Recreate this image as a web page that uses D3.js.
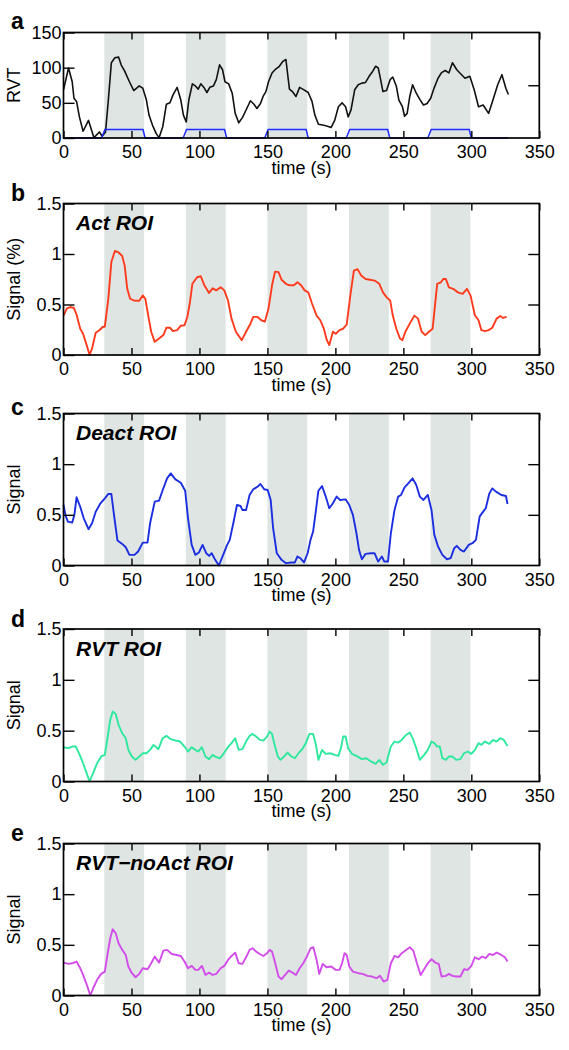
<!DOCTYPE html>
<html><head><meta charset="utf-8">
<script src="https://cdn.jsdelivr.net/npm/d3@7"></script>
<style>body{margin:0;background:#fff} svg{display:block}</style>
</head><body>
<svg id="chart" width="569" height="1050"></svg>
<script>
// ---------- data ----------
const xTicks = [0, 50, 100, 150, 200, 250, 300, 350];
const rvtTicks = [0, 50, 100, 150];
const sigTicks = [0, 0.5, 1, 1.5];
const bandStarts = [30, 90, 150, 210, 270];
const bandEnds = [59.3, 119.3, 179.3, 239.3, 299.3];
const stimT = [0, 28, 30.5, 58.5, 60, 88, 90.5, 118.5, 120, 148, 150.5, 178.5, 180, 208, 210.5, 238.5, 240, 268, 270.5, 298.5, 300, 327];
const stimV = [0, 0, 0.08, 0.08, 0, 0, 0.08, 0.08, 0, 0, 0.08, 0.08, 0, 0, 0.08, 0.08, 0, 0, 0.08, 0.08, 0, 0];

const rvt = [[0,68.5],[3.7,99.6],[6.4,80],[7.7,56.5],[9.6,52],[11.7,30],[14.4,9.6],[18.4,25],[22.4,0.5],[26.4,8.6],[28.5,2.4],[30.9,8.6],[33,54],[35.2,107],[37.8,114],[40.5,115],[42.4,104],[45,95],[48.5,80],[51.7,67.5],[55.7,74],[58.3,71],[61,54],[62.9,32.6],[65.5,18],[68.2,6.2],[70.3,0.5],[73,16],[75.7,48],[78.3,50],[80.5,61],[83.6,72],[86.3,54],[88.2,32.6],[90.3,23],[92.2,54],[94.8,77],[97,74],[99.1,69.5],[101,77],[103.6,71],[105.5,64.7],[107.6,72],[110.3,74],[112.4,83],[114.8,104],[117,97],[118.8,80],[121.5,77],[124.1,63.7],[126.3,35],[128.9,21.6],[131.6,29],[134.3,39.8],[137.5,53],[140.1,48],[142.3,42],[144.9,49],[147,60],[148.9,66],[150.8,80],[153.4,92.5],[156.1,98],[158.8,102],[161.4,109],[163.6,111.6],[166.2,69.5],[168.4,66],[171,59],[173.7,72],[176.9,68.5],[180,64.7],[182.8,52],[184.9,32.6],[187.5,19.6],[191.5,18],[194.2,16.8],[196.9,15],[199.5,25],[202.2,44.5],[204.9,50],[207.5,44.5],[209.4,30],[211.5,40],[214.2,68.5],[216.8,75.7],[219.5,78],[222.2,79],[224.8,87.7],[227.5,95],[229.6,102],[231.5,99.6],[232.8,87.7],[235,66],[237.6,67.5],[240.3,83],[242.2,86.7],[244.8,74],[246.7,54],[249.3,44.5],[250.9,31],[252.8,35],[254.7,59],[256.8,75.7],[259.5,63.7],[262.1,55],[264.8,47],[267.5,49],[270.1,56.5],[272.8,72],[275.5,85],[278.1,93],[280.8,96],[283.5,92.5],[286.1,107],[289.3,97],[292.8,90],[295.4,85],[298.9,87.7],[302.1,68.5],[305.3,44.5],[308.7,47],[312.7,35],[315.9,54],[319.4,75.7],[322.5,90],[325.5,70],[327.3,61.8]];

const actRoi = [[0,0.39],[2.4,0.46],[5,0.475],[7.7,0.465],[9.6,0.40],[12.3,0.26],[14.4,0.21],[17,0.10],[19.2,0],[21,0.065],[23.7,0.22],[26.4,0.245],[29,0.28],[30.4,0.28],[33,0.56],[35.2,0.92],[37.8,1.03],[40.5,1.015],[43.2,0.98],[45,0.885],[46.9,0.655],[49,0.557],[51.7,0.54],[55.7,0.537],[58.3,0.59],[60.2,0.557],[62.3,0.393],[64.5,0.23],[67.1,0.13],[70.3,0.164],[73.5,0.197],[75.7,0.27],[78.3,0.27],[80.5,0.236],[83.6,0.246],[86.3,0.29],[89,0.295],[91.1,0.377],[93,0.52],[94.8,0.705],[98.3,0.77],[101,0.78],[103.6,0.69],[107.1,0.615],[109.7,0.66],[112.4,0.64],[115.6,0.67],[118.3,0.64],[121,0.54],[123.6,0.36],[126.8,0.23],[131.1,0.147],[134.3,0.23],[137.5,0.31],[139.6,0.377],[142.8,0.377],[145.5,0.344],[148.1,0.33],[150.8,0.46],[153.4,0.69],[155.6,0.825],[158.2,0.82],[160.4,0.745],[163.6,0.705],[166.2,0.69],[169.4,0.69],[172.1,0.72],[174.8,0.69],[177.4,0.64],[180.1,0.62],[182.8,0.51],[186.2,0.39],[188.9,0.344],[191.5,0.26],[193.7,0.147],[195.5,0.098],[198.2,0.23],[200.3,0.21],[203,0.246],[205.7,0.26],[208.3,0.30],[211,0.59],[213.6,0.835],[216.3,0.85],[219,0.786],[222.2,0.753],[225.4,0.745],[228.8,0.737],[232.3,0.705],[235,0.62],[237.6,0.573],[240.3,0.54],[242.2,0.393],[244.8,0.26],[247.5,0.164],[249.3,0.147],[251.5,0.23],[255.5,0.33],[258.1,0.39],[260.8,0.36],[263.5,0.23],[266.1,0.197],[268.8,0.23],[271.5,0.26],[274.9,0.705],[277.6,0.72],[279.5,0.753],[281.3,0.753],[283.5,0.67],[286.6,0.655],[290.1,0.62],[293.6,0.606],[296.8,0.655],[299.4,0.59],[302.6,0.393],[305.3,0.344],[307.4,0.246],[310,0.236],[312.7,0.246],[315.4,0.27],[318.6,0.36],[321.3,0.386],[323.4,0.367],[326,0.377]];

const deactRoi = [[0,0.60],[1.6,0.49],[3.2,0.433],[6.4,0.423],[8,0.50],[9.6,0.673],[12.3,0.58],[14.9,0.466],[18.4,0.358],[21,0.417],[23.7,0.53],[27.2,0.614],[30.4,0.663],[33,0.706],[35.2,0.706],[37,0.515],[39.7,0.246],[43.2,0.213],[45.8,0.18],[48.5,0.105],[52.2,0.105],[54.9,0.138],[58.3,0.226],[61.8,0.226],[63.7,0.417],[67.1,0.63],[70.3,0.64],[73,0.745],[76.2,0.86],[78.9,0.909],[82.3,0.85],[86.3,0.817],[89.5,0.738],[91.6,0.466],[94.3,0.203],[97,0.105],[99.6,0.128],[102.3,0.203],[105,0.121],[107.1,0.095],[109,0.121],[111.6,0.056],[114.3,0],[117,0.089],[120.4,0.203],[122.3,0.253],[124.9,0.417],[127.6,0.597],[130.3,0.587],[131.6,0.548],[134.3,0.548],[136.9,0.696],[139.6,0.752],[142.8,0.778],[144.9,0.804],[147.6,0.752],[150.2,0.745],[152.4,0.647],[154.2,0.368],[156.9,0.121],[160.4,0.056],[163.6,0.023],[167.6,0.03],[170.2,0.03],[172.1,0.089],[174.2,0.072],[176.9,0.03],[179.6,0.121],[181.7,0.253],[183.6,0.335],[185.4,0.515],[187.5,0.738],[190.2,0.784],[192.9,0.68],[195.5,0.565],[198.2,0.614],[200.9,0.68],[203.5,0.647],[207.5,0.653],[210.2,0.597],[212.9,0.50],[215.5,0.318],[217.4,0.154],[219.5,0.062],[222.2,0.115],[226.2,0.121],[228.8,0.121],[231.5,0.039],[234.2,0.089],[236,0.039],[238.7,0.039],[240.8,0.318],[243.5,0.548],[246.2,0.68],[248.3,0.696],[250.9,0.771],[253.6,0.81],[256.8,0.86],[259.5,0.794],[262.1,0.68],[264.8,0.647],[268,0.696],[270.7,0.548],[272.8,0.302],[275.5,0.187],[278.7,0.105],[282.1,0.062],[284.8,0.072],[287.4,0.171],[289.3,0.194],[292,0.154],[294.6,0.138],[298.1,0.203],[300.8,0.22],[303.4,0.253],[306.1,0.482],[308.7,0.532],[310.6,0.565],[313.3,0.712],[315.4,0.761],[318.1,0.729],[322.1,0.696],[325.5,0.686],[326.6,0.607]];

const rvtRoi = [[0,0.337],[3.7,0.328],[6.4,0.344],[9,0.344],[11.7,0.27],[14.4,0.18],[17,0.082],[19.2,0],[21.8,0.082],[24.5,0.174],[27.7,0.246],[30.4,0.262],[32.5,0.44],[34.4,0.606],[36.2,0.688],[38.4,0.665],[40.5,0.557],[43.2,0.475],[45.8,0.426],[47.7,0.311],[50.3,0.246],[53,0.213],[55.7,0.246],[58.3,0.278],[61,0.278],[63.7,0.311],[66.3,0.36],[69.8,0.318],[73,0.426],[75.7,0.449],[78.9,0.416],[82.3,0.403],[85.8,0.393],[89,0.344],[91.6,0.295],[94.3,0.337],[97,0.311],[99.1,0.295],[101.8,0.337],[104.4,0.246],[107.1,0.22],[109.7,0.262],[112.4,0.239],[115.1,0.229],[117.7,0.272],[120.9,0.337],[123.6,0.377],[126.3,0.426],[128.9,0.311],[131.6,0.318],[134.3,0.393],[136.9,0.449],[139.1,0.468],[141.7,0.442],[144.4,0.409],[147,0.403],[149.7,0.442],[151.6,0.491],[153.4,0.468],[155.6,0.344],[157.7,0.246],[159.6,0.213],[162.2,0.246],[164.9,0.285],[167.6,0.246],[170.2,0.229],[172.9,0.278],[175.6,0.318],[178.2,0.377],[180.9,0.468],[183.6,0.468],[185.7,0.36],[187.5,0.213],[190.2,0.311],[192.9,0.272],[196.1,0.278],[199.5,0.262],[202.2,0.252],[204.1,0.328],[205.7,0.442],[207.5,0.442],[209.4,0.328],[212.1,0.272],[215.5,0.252],[219.5,0.22],[222.7,0.229],[226.2,0.197],[229.6,0.174],[232.3,0.213],[235,0.164],[237.6,0.187],[240.8,0.344],[243.5,0.393],[246.2,0.383],[248.8,0.409],[252,0.458],[254.7,0.481],[256.8,0.426],[259.5,0.328],[262.1,0.213],[265.3,0.262],[268,0.311],[270.7,0.393],[272.8,0.377],[274.9,0.344],[276.8,0.344],[278.7,0.229],[281.3,0.213],[283.5,0.246],[286.1,0.246],[288.8,0.213],[292,0.22],[294.6,0.278],[297.3,0.295],[300,0.272],[302.6,0.311],[305.3,0.377],[307.4,0.36],[310,0.393],[313.3,0.37],[315.9,0.409],[318.6,0.393],[321.3,0.426],[323.9,0.409],[326.6,0.35]];

const noActRoi = [[0,0.325],[3.7,0.312],[6.4,0.318],[9.6,0.335],[12.3,0.269],[14.9,0.187],[17.6,0.089],[19.7,0],[22.4,0.089],[25,0.161],[27.7,0.213],[30.4,0.236],[32.5,0.417],[34.4,0.565],[36.2,0.653],[38.4,0.614],[40.5,0.515],[43.2,0.45],[45.8,0.40],[47.7,0.286],[50.3,0.22],[53,0.18],[55.7,0.213],[58.3,0.269],[61.8,0.259],[64.5,0.318],[67.1,0.384],[70.3,0.325],[73.5,0.443],[76.2,0.45],[79.7,0.41],[83.1,0.40],[86.3,0.39],[89,0.335],[91.6,0.269],[94.3,0.292],[97,0.253],[99.1,0.253],[101.8,0.292],[104.4,0.203],[107.1,0.226],[109.7,0.203],[112.4,0.213],[115.6,0.269],[118.3,0.292],[121,0.351],[123.6,0.39],[126.3,0.423],[128.9,0.318],[131.6,0.312],[134.3,0.377],[136.9,0.45],[139.1,0.466],[141.7,0.433],[144.4,0.41],[147,0.39],[149.7,0.417],[151.6,0.45],[153.4,0.433],[155.6,0.325],[158.2,0.187],[160.4,0.161],[163,0.203],[165.7,0.246],[168.4,0.226],[171,0.203],[173.7,0.269],[176.4,0.318],[179,0.384],[181.7,0.466],[183.8,0.476],[186.2,0.351],[188.1,0.213],[190.7,0.312],[193.4,0.279],[196.9,0.286],[200.3,0.253],[203,0.253],[204.9,0.318],[206.7,0.417],[208.3,0.40],[210.2,0.286],[212.9,0.236],[216.8,0.22],[220,0.213],[223.5,0.194],[227,0.187],[230.2,0.171],[232.8,0.194],[235.5,0.138],[238.2,0.154],[240.8,0.318],[243.5,0.39],[246.2,0.377],[248.8,0.417],[252,0.45],[254.7,0.476],[257.3,0.443],[260,0.318],[262.7,0.203],[265.3,0.259],[268,0.318],[270.7,0.358],[273.4,0.325],[276,0.312],[278.1,0.187],[281.3,0.194],[283.5,0.213],[286.1,0.194],[288.8,0.187],[292,0.187],[294.6,0.259],[297.3,0.253],[300,0.292],[302.6,0.377],[305.3,0.358],[308,0.384],[310.6,0.368],[313.3,0.41],[315.9,0.40],[318.6,0.423],[322.1,0.40],[324.7,0.377],[326.6,0.335]];

const panelLetters = ["a", "b", "c", "d", "e"];
const panelTitles = ["", "Act ROI", "Deact ROI", "RVT ROI", "RVT\u2212noAct ROI"];
const yLabels = ["RVT", "Signal (%)", "Signal", "Signal", "Signal"];

// ---------- layout ----------
const svg = d3.select("#chart");
const FONT = "'Liberation Sans', Arial, Helvetica, sans-serif";
const xL = 63.5, xR = 539.3;
const tops = [32.5, 203.5, 413.5, 629, 843.5];
const bottoms = [138, 355, 565.5, 781.5, 995.5];
const letterY = [29, 201, 415, 627, 841];
const series = [rvt, actRoi, deactRoi, rvtRoi, noActRoi];
const colors = ["#111111", "#ff3b1e", "#1b2ee0", "#2ee89e", "#d24cea"];
const x = d3.scaleLinear().domain([0, 350]).range([xL, xR]);

series.forEach((data, i) => {
  const top = tops[i], bot = bottoms[i];
  const yDom = i === 0 ? [0, 150] : [0, 1.5];
  const y = d3.scaleLinear().domain(yDom).range([bot, top]);
  const g = svg.append("g");

  // stimulus bands
  g.selectAll("rect.band").data(bandStarts).join("rect")
    .attr("class", "band")
    .attr("x", (d) => x(d)).attr("width", (d, k) => x(bandEnds[k]) - x(d))
    .attr("y", top).attr("height", bot - top)
    .attr("fill", "#dfe5e3");

  // line
  const line = d3.line().x(d => x(d[0])).y(d => y(d[1]));
  g.append("path").datum(data).attr("d", line)
    .attr("fill", "none").attr("stroke", colors[i])
    .attr("stroke-width", i === 0 ? 1.6 : 1.9).attr("stroke-linejoin", "round");

  let yRight = y;
  let rightTicks = [0.5, 1];
  if (i === 0) {
    yRight = d3.scaleLinear().domain([0, 1]).range([bot, top]);
    rightTicks = [0.5];
    const stim = stimT.map((t, k) => [t, stimV[k]]);
    const sline = d3.line().x(d => x(d[0])).y(d => yRight(d[1]));
    g.append("path").datum(stim).attr("d", sline)
      .attr("fill", "none").attr("stroke", "#1f2cff").attr("stroke-width", 1.5);
  }

  // axes
  const yTicks = i === 0 ? rvtTicks : sigTicks;
  const fmt = i === 0 ? d3.format("d") : (d => d3.format("")(d));
  const axL = g.append("g").attr("transform", `translate(${xL},0)`)
    .call(d3.axisLeft(y).tickValues(yTicks).tickSizeInner(-11).tickSizeOuter(0).tickPadding(2).tickFormat(fmt));
  const axR = g.append("g").attr("transform", `translate(${xR},0)`)
    .call(d3.axisRight(yRight).tickValues(rightTicks).tickSizeInner(-11).tickSizeOuter(0).tickFormat(""));
  const axB = g.append("g").attr("transform", `translate(0,${bot})`)
    .call(d3.axisBottom(x).tickValues(xTicks).tickSizeInner(-7).tickSizeOuter(0).tickPadding(7.5).tickFormat(d3.format("d")));
  const axT = g.append("g").attr("transform", `translate(0,${top})`)
    .call(d3.axisTop(x).tickValues(xTicks).tickSizeInner(-7).tickSizeOuter(0).tickFormat(""));
  [axL, axR, axB, axT].forEach(a => {
    a.select(".domain").remove();
    a.selectAll("line").attr("stroke", "#000").attr("stroke-width", 1.4);
    a.selectAll("text").attr("fill", "#000").style("font-family", FONT).style("font-size", "18px");
  });

  // frame
  g.append("rect").attr("x", xL).attr("y", top).attr("width", xR - xL).attr("height", bot - top)
    .attr("fill", "none").attr("stroke", "#000").attr("stroke-width", 1.7);

  // axis titles
  g.append("text").attr("x", (xL + xR) / 2).attr("y", bot + 35.5)
    .attr("text-anchor", "middle").style("font-family", FONT).style("font-size", "18px")
    .text("time (s)");
  g.append("text").attr("transform", `translate(20,${(top + bot) / 2}) rotate(-90)`)
    .attr("text-anchor", "middle").style("font-family", FONT).style("font-size", "18px")
    .text(yLabels[i]);

  // panel letter
  g.append("text").attr("x", 11).attr("y", letterY[i])
    .style("font-family", FONT).style("font-size", "23px").style("font-weight", "bold")
    .text(panelLetters[i]);

  // panel title
  if (panelTitles[i]) {
    g.append("text").attr("x", 76).attr("y", top + 26.5)
      .style("font-family", FONT).style("font-size", "21px").style("font-weight", "bold").style("font-style", "italic")
      .text(panelTitles[i]);
  }
});
</script>
</body></html>
